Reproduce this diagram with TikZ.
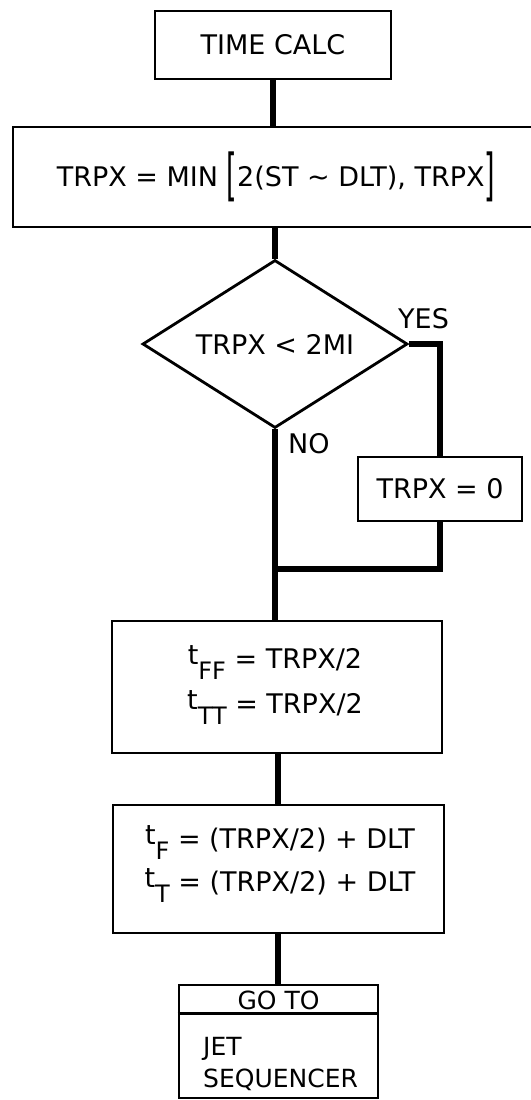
\documentclass[tikz,border=0pt]{standalone}
\usepackage{fontspec}
\setmainfont{DejaVu Sans}
\usepackage{graphicx}
\usetikzlibrary{shapes.geometric}
\newcommand{\lowsub}[1]{\raisebox{-0.42em}[0pt][0pt]{\fontsize{24}{24}\selectfont #1}}
\newcommand{\upt}{\raisebox{0.12em}{t}}
\newcommand{\bigbrl}{\raisebox{-7.8pt}{\scalebox{1}[2.08]{[}}}
\newcommand{\bigbrr}{\raisebox{-7.8pt}{\scalebox{1}[2.08]{]}}}
\begin{document}
\begin{tikzpicture}[x=1pt,y=-1pt,
  every node/.style={font=\fontsize{27}{32}\selectfont},
  box/.style={draw, line width=2.8pt, inner sep=0pt},
  conn/.style={line width=5.5pt},
  txt/.style={inner sep=0pt, anchor=base},
  lbl/.style={inner sep=0pt, anchor=base west}]
\useasboundingbox (0,0) rectangle (530,1100);

% boxes
\node[box, minimum width=236pt, minimum height=68pt] (tc) at (273,45) {TIME CALC};
\node[box, minimum width=526pt, minimum height=100pt] (mn) at (276,177)
  {TRPX = MIN \bigbrl2(ST \textasciitilde\ DLT), TRPX\bigbrr};
\node[box, diamond, aspect=1.6, minimum width=265pt, minimum height=168pt] (dec) at (275,344) {TRPX < 2MI};
\node[box, minimum width=164pt, minimum height=64pt] (z) at (440,489) {TRPX = 0};
\node[box, minimum width=330pt, minimum height=132pt] (tff) at (277,687) {};
\node[box, minimum width=331pt, minimum height=128pt] (tf) at (278.5,869) {};
\node[box, minimum width=199pt, minimum height=113pt] (go) at (278.5,1041.5) {};

% texts
\node[txt] (tff1) at (275,668) {\upt\lowsub{FF} = TRPX/2};
\node[txt] (tff2) at (275,713) {\upt\lowsub{TT} = TRPX/2};
\node[txt] (tf1) at (280,848) {\upt\lowsub{F} = (TRPX/2) + DLT};
\node[txt] (tf2) at (280,891) {\upt\lowsub{T} = (TRPX/2) + DLT};
\node[txt, font=\fontsize{25}{30}\selectfont] (goto) at (278.5,1009) {GO TO};
\node[lbl, font=\fontsize{25}{30}\selectfont] (jet) at (203,1055) {JET};
\node[lbl, font=\fontsize{25}{30}\selectfont] (seq) at (203,1087) {SEQUENCER};
\node[lbl] (yes) at (398,328) {YES};
\node[lbl] (no) at (288,453) {NO};

\draw[line width=2.8pt] ([yshift=-30pt]go.north west) -- ([yshift=-30pt]go.north east);

% connectors
\coordinate (m) at (275,569);
\draw[conn] (tc.south) -- (tc.south |- mn.north);
\draw[conn] (dec.north |- mn.south) -- (dec.north);
\draw[conn] (dec.east) -| (z.north);
\draw[conn] (z.south) |- (m);
\draw[conn] (dec.south) -- (dec.south |- tff.north);
\draw[conn] (tff.south -| 278,0) -- (tf.north -| 278,0);
\draw[conn] (tf.south -| 278,0) -- (go.north -| 278,0);
\end{tikzpicture}
\end{document}
